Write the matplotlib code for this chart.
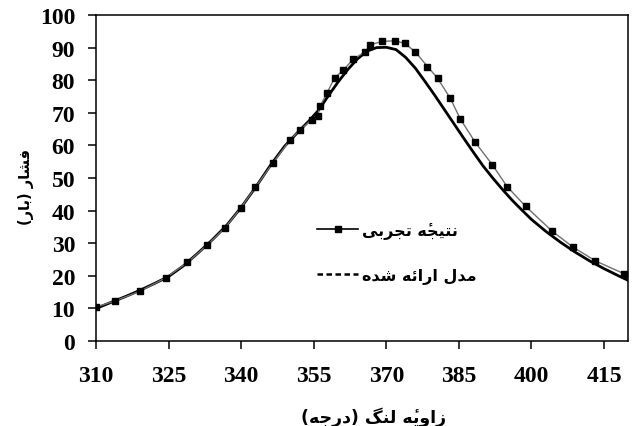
import matplotlib
matplotlib.use('Agg')
import matplotlib.pyplot as plt
from matplotlib.lines import Line2D

# crank angle (deg) and cylinder pressure (bar)
exp_angle = [310.0, 313.9, 319.1, 324.4, 328.9, 333.0, 336.7, 339.9, 342.9,
             346.5, 350.1, 352.2, 354.6, 355.8, 356.3, 357.7, 359.3, 361.1,
             363.2, 365.5, 366.7, 369.2, 371.8, 373.8, 376.0, 378.5, 380.6,
             383.2, 385.3, 388.4, 391.9, 395.0, 398.8, 404.2, 408.5, 413.2,
             419.2]
exp_pressure = [10.4, 12.3, 15.3, 19.4, 24.1, 29.5, 34.8, 40.8, 47.1,
                54.5, 61.7, 64.8, 67.9, 69.1, 72.0, 76.0, 80.7, 83.1,
                86.5, 88.6, 90.9, 91.9, 92.1, 91.3, 88.7, 84.2, 80.6,
                74.5, 68.1, 60.9, 54.1, 47.3, 41.3, 33.8, 28.9, 24.6,
                20.6]

model_angle = [310, 313, 316, 319, 322, 325, 328, 331, 334, 337, 340, 343,
               346, 349, 352, 354, 356, 358, 360, 362, 364, 366, 368, 370,
               372, 374, 376, 378, 380, 382, 384, 386, 388, 390, 392, 394,
               396, 398, 400, 403, 406, 409, 412, 415, 418, 420]
model_pressure = [10.0, 11.8, 13.6, 15.5, 17.6, 19.8, 23.0, 26.9, 31.0, 35.5,
                  41.0, 47.2, 53.8, 59.8, 64.5, 67.5, 70.8, 75.2, 79.4, 83.2,
                  86.5, 88.9, 90.0, 90.1, 89.4, 87.0, 83.7, 79.6, 75.4, 71.0,
                  66.6, 62.2, 57.9, 53.7, 50.0, 46.5, 43.2, 40.2, 37.3, 33.6,
                  30.3, 27.3, 24.6, 22.2, 20.0, 18.6]

x_ticks = [310, 325, 340, 355, 370, 385, 400, 415]
y_ticks = list(range(0, 101, 10))

x_title = 'زاویهٔ لنگ (درجه)'
y_title = 'فشار (بار)'
exp_label = 'نتیجهٔ تجربی'
model_label = 'مدل ارائه شده'

# presentation forms: isolated, final, initial, medial
FORMS = {
    'ا': ('\uFE8D', '\uFE8E', None, None),
    'ب': ('\uFE8F', '\uFE90', '\uFE91', '\uFE92'),
    'ت': ('\uFE95', '\uFE96', '\uFE97', '\uFE98'),
    'ج': ('\uFE9D', '\uFE9E', '\uFE9F', '\uFEA0'),
    'د': ('\uFEA9', '\uFEAA', None, None),
    'ر': ('\uFEAD', '\uFEAE', None, None),
    'ز': ('\uFEAF', '\uFEB0', None, None),
    'ش': ('\uFEB5', '\uFEB6', '\uFEB7', '\uFEB8'),
    'ف': ('\uFED1', '\uFED2', '\uFED3', '\uFED4'),
    'ل': ('\uFEDD', '\uFEDE', '\uFEDF', '\uFEE0'),
    'م': ('\uFEE1', '\uFEE2', '\uFEE3', '\uFEE4'),
    'ن': ('\uFEE5', '\uFEE6', '\uFEE7', '\uFEE8'),
    'ه': ('\uFEE9', '\uFEEA', '\uFEEB', '\uFEEC'),
    'و': ('\uFEED', '\uFEEE', None, None),
    'ئ': ('\uFE89', '\uFE8A', '\uFE8B', '\uFE8C'),
    'ی': ('\uFEEF', '\uFEF0', '\uFEF3', '\uFEF4'),
    'گ': ('\uFB92', '\uFB93', '\uFB94', '\uFB95'),
}
MARKS = {'\u0654'}
MIRROR = {'(': ')', ')': '('}


def shape(text):
    """ join persian letters and put them in visual (left to right) order """
    # keep a combining mark glued to its base letter
    clusters = []
    for ch in text:
        if ch in MARKS and clusters:
            clusters[-1] += ch
        else:
            clusters.append(ch)
    bases = [c[0] for c in clusters]
    out = []
    for i, cl in enumerate(clusters):
        ch = bases[i]
        if ch not in FORMS:
            out.append(MIRROR.get(ch, ch))
            continue
        prev = bases[i - 1] if i > 0 else ''
        nxt = bases[i + 1] if i + 1 < len(bases) else ''
        join_prev = prev in FORMS and FORMS[prev][2] is not None
        join_next = nxt in FORMS and FORMS[ch][2] is not None
        iso, fin, ini, med = FORMS[ch]
        if join_prev and join_next:
            g = med
        elif join_prev:
            g = fin
        elif join_next:
            g = ini
        else:
            g = iso
        out.append(g + cl[1:])
    return ''.join(reversed(out))


plt.rcParams['font.family'] = ['Liberation Serif', 'DejaVu Sans']
plt.rcParams['font.weight'] = 'bold'

fig = plt.figure(figsize=(6.32, 4.27), dpi=100)
ax = fig.add_axes([0.152, 0.199, 0.842, 0.7635])

ax.plot(model_angle, model_pressure, color='black', lw=2.0, zorder=2)
ax.plot(exp_angle, exp_pressure, color='#707070', lw=1.0, marker='s',
        markersize=4.5, markerfacecolor='black', markeredgecolor='black',
        zorder=3)

ax.set_xlim(310, 420)
ax.set_ylim(0, 100)
ax.set_xticks(x_ticks)
ax.set_yticks(y_ticks)
ax.tick_params(direction='out', length=6, width=1.1, labelsize=17)
ax.tick_params(axis='x', pad=11)
ax.tick_params(axis='y', pad=9)
for sp in ax.spines.values():
    sp.set_linewidth(1.1)

arabic = {'family': 'DejaVu Sans', 'weight': 'bold'}
fig.text(374 / 632, 1 - 417 / 427, shape(x_title), ha='center', va='center',
         fontsize=12.5, fontdict=arabic)
fig.text(26 / 632, 1 - 187 / 427, shape(y_title), ha='center', va='center',
         rotation=90, fontsize=10.5, fontdict=arabic)

handles = [
    Line2D([], [], color='black', lw=1.2, marker='s', markersize=4.5),
    Line2D([], [], color='black', lw=1.8, ls=(0, (2.2, 1.4))),
]
leg = ax.legend(handles, [shape(exp_label), shape(model_label)],
                loc='upper left', bbox_to_anchor=(0.415, 0.365), frameon=False,
                handlelength=2.6, handletextpad=0.2, labelspacing=1.8,
                borderpad=0, borderaxespad=0,
                prop={'family': 'DejaVu Sans', 'weight': 'bold', 'size': 11.5})

fig.savefig('out.png', dpi=100)
